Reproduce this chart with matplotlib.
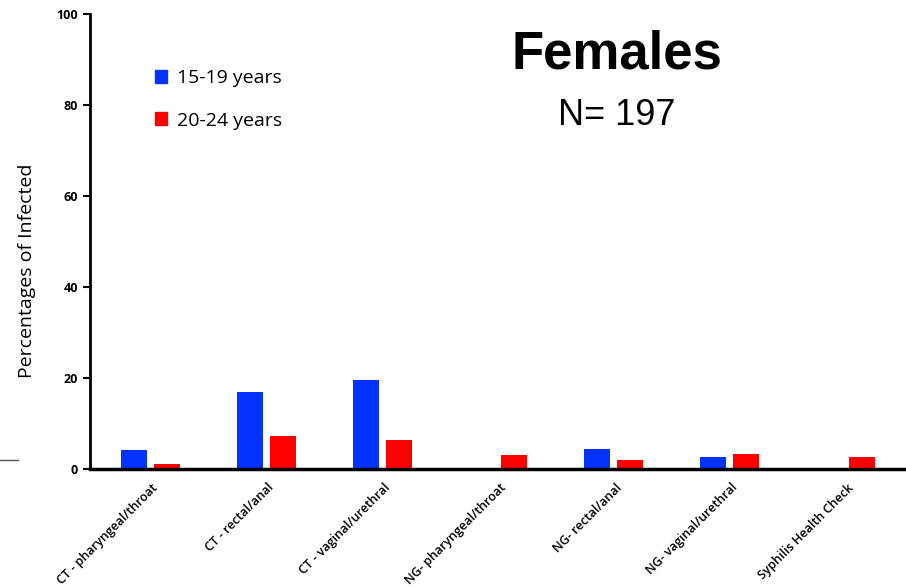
import numpy as np
import matplotlib
matplotlib.use("Agg")
import matplotlib.pyplot as plt
from matplotlib.lines import Line2D
from matplotlib.patches import Patch

# ---------------------- data ---------------------- #
categories = [
    "CT - pharyngeal/throat",
    "CT - rectal/anal",
    "CT - vaginal/urethral",
    "NG- pharyngeal/throat",
    "NG- rectal/anal",
    "NG- vaginal/urethral",
    "Syphilis Health Check",
]
age_15_19 = [4.2, 17.0, 19.6, 0.0, 4.3, 2.6, 0.0]
age_20_24 = [1.2, 7.2, 6.4, 3.1, 2.0, 3.2, 2.6]
series_labels = ["15-19 years", "20-24 years"]
y_ticks = [0, 20, 40, 60, 80, 100]

BLUE = "#0433ff"
RED = "#ff0000"

# ---------------------- plot ---------------------- #
fig = plt.figure(figsize=(9.06, 5.87), dpi=100)
ax = fig.add_axes([0.0993, 0.201, 0.9007, 0.775])

x = np.arange(len(categories))
w = 0.224
off = 0.142
ax.bar(x - off, age_15_19, width=w, color=BLUE)
ax.bar(x + off, age_20_24, width=w, color=RED)

ax.set_xlim(-0.52, len(categories) - 0.48)
ax.set_ylim(0, 100)
ax.set_yticks(y_ticks)
ax.set_yticklabels([str(t) for t in y_ticks], fontsize=9, fontweight="bold",
                   family="Open Sans")
ax.set_xticks(x + 0.05)
ax.set_xticklabels(categories, rotation=45, ha="right", va="center",
                   rotation_mode="anchor", fontsize=9, fontweight="semibold",
                   family="Open Sans")
ax.tick_params(axis="x", length=0, pad=12)
ax.tick_params(axis="y", direction="out", length=5, width=1.5)

for s in ["top", "right"]:
    ax.spines[s].set_visible(False)
ax.spines["left"].set_linewidth(2)
ax.spines["bottom"].set_linewidth(2.5)

ax.set_ylabel("Percentages of Infected", fontsize=14, family="Open Sans")
ax.yaxis.set_label_coords(-0.066, 0.435)

# legend
handles = [Patch(color=BLUE), Patch(color=RED)]
ax.legend(handles, series_labels, loc="upper left",
          bbox_to_anchor=(0.058, 0.917), frameon=False,
          handlelength=0.65, handleheight=0.65, handletextpad=0.5,
          labelspacing=1.25, prop={"family": "Open Sans", "size": 14})

# titles
fig.text(0.681, 0.908, "Females", fontsize=38, fontweight="bold",
         ha="center", va="center", family="Liberation Sans")
fig.text(0.681, 0.803, "N= 197", fontsize=26, ha="center", va="center",
         family="Liberation Sans")

# stray dash on the left edge
fig.add_artist(Line2D([0.0, 0.02], [0.216, 0.216], color="#555555", lw=1))

fig.savefig("out.png", dpi=100)
